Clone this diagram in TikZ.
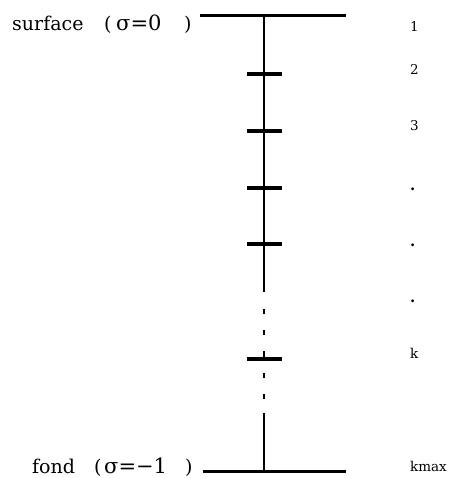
\documentclass[tikz,border=0pt]{standalone}
\usepackage{fontspec}
\setmainfont{DejaVu Serif}
\begin{document}
\begin{tikzpicture}[x=1pt,y=-1pt,
  level/.style={line width=3pt},
  axis/.style={line width=2.4pt},
  tick/.style={line width=3.2pt},
  gap/.style={line width=2pt},
  lab/.style={inner sep=0pt,anchor=base west,font=\fontsize{19}{19}\selectfont},
  sig/.style={inner sep=0pt,anchor=base west,font=\fontsize{21}{21}\selectfont},
  num/.style={inner sep=0pt,anchor=base west,font=\fontsize{13.5}{13.5}\selectfont},
  dotlab/.style={inner sep=0pt,anchor=base west,font=\fontsize{15}{15}\selectfont\bfseries}]
\useasboundingbox (0,0) rectangle (455,478);
% levels
\coordinate (tl) at (200,16); \coordinate (tr) at (346,16);
\coordinate (bl) at (203,471); \coordinate (br) at (346,471);
\coordinate (top) at (264,16); \coordinate (mid) at (264,292);
\coordinate (low) at (264,413); \coordinate (bot) at (264,471);
\draw[level] (tl) -- (tr);
\draw[level] (bl) -- (br);
\draw[axis] (top) -- (mid);
\draw[axis] (low) -- (bot);
% ticks
\foreach \y/\n in {74/a,131/b,188/c,244/d,359/k}{
  \coordinate (t\n l) at (247,\y); \coordinate (t\n r) at (282,\y);
  \draw[tick] (t\n l) -- (t\n r);
}
% broken part
\foreach \ya/\yb [count=\i] in {309/314,330/335,351/359,373/378,394/399}{
  \coordinate (da\i) at (264,\ya); \coordinate (db\i) at (264,\yb);
  \draw[gap] (da\i) -- (db\i);
}
% left labels
\node[lab] (surf) at (12,31) {surface};
\node[lab] (sp1) at (104,31) {(};
\node[sig] (sig0) at (116,31) {σ=0};
\node[lab] (sp2) at (184,31) {)};
\node[lab] (fond) at (32,473) {fond};
\node[lab] (fp1) at (94,473) {(};
\node[sig] (sig1) at (104,473) {σ=−1};
\node[lab] (fp2) at (185,473) {)};
% right labels
\node[num] (n1) at (410,32) {1};
\node[num] (n2) at (410,75) {2};
\node[num] (n3) at (410,131) {3};
\node[dotlab] (n4) at (410,190) {.};
\node[dotlab] (n5) at (410,246) {.};
\node[dotlab] (n6) at (410,302) {.};
\node[num] (nk) at (410,358) {k};
\node[num] (nmax) at (410,471) {kmax};
\end{tikzpicture}
\end{document}
